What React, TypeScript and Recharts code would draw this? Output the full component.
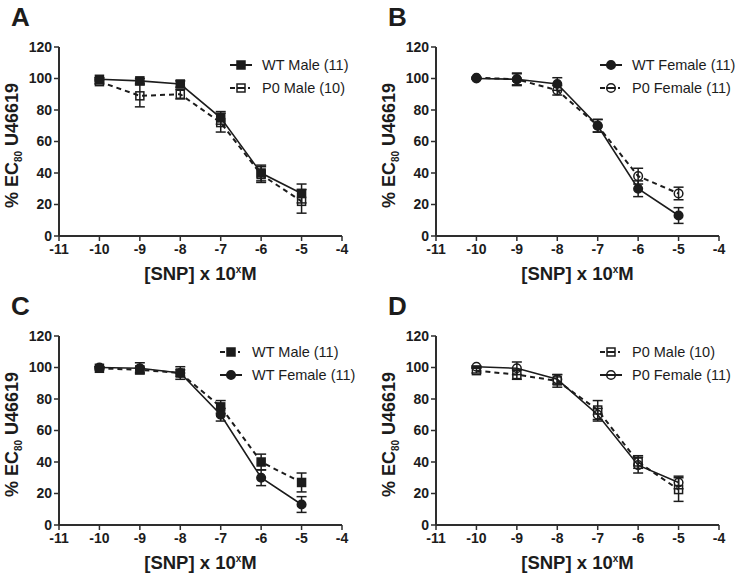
import React from "react";
import { LineChart, Line, XAxis, YAxis, ErrorBar } from "recharts";

// log10 [SNP] (M)
const DOSES = [-10, -9, -8, -7, -6, -5];
const X_TICKS = [-11, -10, -9, -8, -7, -6, -5, -4];
const Y_TICKS = [0, 20, 40, 60, 80, 100, 120];

// % EC80 U46619, mean and SEM
const WT_MALE = [99.5, 98.5, 96.5, 75, 40, 27];
const WT_MALE_SEM = [1, 1.5, 2, 4, 5, 6];
const P0_MALE = [98, 89, 90, 72, 39, 22];
const P0_MALE_SEM = [1.5, 7, 3, 6, 5, 7.5];
const WT_FEMALE = [100, 99.5, 96.5, 70, 30, 13];
const WT_FEMALE_SEM = [0.5, 3.5, 4, 4, 5, 5];
const P0_FEMALE = [100.5, 99.5, 92.5, 70, 38, 27];
const P0_FEMALE_SEM = [0.5, 4, 3, 4, 5, 4];
// panel D plots P0 male slightly differently
const P0_MALE_D = [98, 95.5, 91.5, 73, 40, 22.5];
const P0_MALE_D_SEM = [1.5, 3, 4, 6, 4, 7.5];

const FONT = '"Liberation Sans", Arial, Helvetica, sans-serif';
const INK = "#1c1c1c";
const AXIS = "#2e2e2e";

type Series = {
  key: string;
  name: string;
  shape: "square" | "circle";
  filled: boolean;
  dashed: boolean;
};

const WT_M: Series = { key: "wtMale", name: "WT Male (11)", shape: "square", filled: true, dashed: false };
const P0_M: Series = { key: "p0Male", name: "P0 Male (10)", shape: "square", filled: false, dashed: true };
const WT_F: Series = { key: "wtFemale", name: "WT Female (11)", shape: "circle", filled: true, dashed: false };
const P0_F: Series = { key: "p0Female", name: "P0 Female (11)", shape: "circle", filled: false, dashed: true };

const data = DOSES.map((dose, i) => ({
  dose,
  wtMale: WT_MALE[i],
  wtMaleErr: WT_MALE_SEM[i],
  p0Male: P0_MALE[i],
  p0MaleErr: P0_MALE_SEM[i],
  wtFemale: WT_FEMALE[i],
  wtFemaleErr: WT_FEMALE_SEM[i],
  p0Female: P0_FEMALE[i],
  p0FemaleErr: P0_FEMALE_SEM[i],
  p0MaleD: P0_MALE_D[i],
  p0MaleDErr: P0_MALE_D_SEM[i],
}));

// panel C shows WT male dashed, panel D shows P0 female solid
const PANELS = [
  { letter: "A", left: 0, top: 0, legendX: 230, legendY: [65, 88], series: [WT_M, P0_M] },
  { letter: "B", left: 377, top: 0, legendX: 223, legendY: [65, 88], series: [WT_F, P0_F] },
  { letter: "C", left: 0, top: 289, legendX: 220, legendY: [63, 86], series: [{ ...WT_M, dashed: true }, WT_F] },
  {
    letter: "D",
    left: 377,
    top: 289,
    legendX: 223,
    legendY: [63, 86],
    series: [{ ...P0_M, key: "p0MaleD" }, { ...P0_F, dashed: false }],
  },
];

function Marker({ cx, cy, s }: { cx: number; cy: number; s: Series }) {
  const fill = s.filled ? INK : "none";
  if (s.shape === "square") {
    return <rect x={cx - 4} y={cy - 4} width={8} height={8} fill={fill} stroke={INK} strokeWidth={1.5} />;
  }
  return <circle cx={cx} cy={cy} r={4.3} fill={fill} stroke={INK} strokeWidth={1.5} />;
}

function LegendSymbol({ s }: { s: Series }) {
  return (
    <svg width={22} height={12} style={{ display: "block" }}>
      {s.dashed ? (
        <g stroke={INK} strokeWidth={2}>
          <line x1={0} y1={6} x2={5} y2={6} />
          <line x1={7} y1={6} x2={15} y2={6} />
          <line x1={18} y1={6} x2={20} y2={6} />
        </g>
      ) : (
        <line x1={0} y1={6} x2={22} y2={6} stroke={INK} strokeWidth={2} />
      )}
      <Marker cx={11} cy={6} s={s} />
    </svg>
  );
}

function YLabel(props: any) {
  const vb = props.viewBox;
  const cx = 18;
  const cy = vb.y + vb.height / 2 + 4;
  return (
    <text
      x={cx}
      y={cy}
      transform={`rotate(-90 ${cx} ${cy})`}
      textAnchor="middle"
      fontFamily={FONT}
      fontWeight={700}
      fontSize={18}
      fill={INK}
    >
      % EC
      <tspan dy={4} fontSize={10}>80</tspan>
      <tspan dy={-4}> U46619</tspan>
    </text>
  );
}

function XLabel(props: any) {
  const vb = props.viewBox;
  const x = vb.x + vb.width / 2;
  const y = vb.y + 44;
  return (
    <text x={x} y={y} textAnchor="middle" fontFamily={FONT} fontWeight={700} fontSize={18.5} fill={INK}>
      [SNP] x 10
      <tspan dy={-7} fontSize={10}>x</tspan>
      <tspan dy={7}>M</tspan>
    </text>
  );
}

function Panel({ p }: { p: (typeof PANELS)[number] }) {
  const tick = { fill: INK, fontSize: 14, fontWeight: 700, fontFamily: FONT };
  const drawOrder = [...p.series].reverse();
  return (
    <div style={{ position: "absolute", left: p.left, top: p.top, width: 360, height: 290 }}>
      <LineChart width={360} height={290} data={data} margin={{ top: 47, right: 18, bottom: 0, left: 0 }}>
        <XAxis
          type="number"
          dataKey="dose"
          domain={[-11, -4]}
          ticks={X_TICKS}
          allowDataOverflow
          height={54}
          tick={tick}
          tickSize={5}
          tickMargin={3}
          axisLine={{ stroke: AXIS, strokeWidth: 2 }}
          tickLine={{ stroke: AXIS, strokeWidth: 1.5 }}
          label={<XLabel />}
        />
        <YAxis
          type="number"
          domain={[0, 120]}
          ticks={Y_TICKS}
          width={59}
          tick={tick}
          tickSize={5}
          tickMargin={2}
          axisLine={{ stroke: AXIS, strokeWidth: 2 }}
          tickLine={{ stroke: AXIS, strokeWidth: 1.5 }}
          label={<YLabel />}
        />
        {drawOrder.map((s) => (
          <Line
            key={s.key}
            type="linear"
            dataKey={s.key}
            name={s.name}
            stroke={INK}
            strokeWidth={s.dashed ? 2 : 1.6}
            strokeDasharray={s.dashed ? "5 4" : undefined}
            isAnimationActive={false}
            activeDot={false}
            dot={(d: any) => <Marker key={`${s.key}-${d.index}`} cx={d.cx} cy={d.cy} s={s} />}
          >
            <ErrorBar dataKey={`${s.key}Err`} direction="y" width={5} stroke={INK} strokeWidth={1.5} />
          </Line>
        ))}
      </LineChart>

      <div
        style={{
          position: "absolute",
          left: 11,
          top: 4,
          fontFamily: FONT,
          fontWeight: 700,
          fontSize: 26,
          lineHeight: "26px",
          color: INK,
        }}
      >
        {p.letter}
      </div>

      {p.series.map((s, i) => (
        <div
          key={s.key}
          style={{
            position: "absolute",
            left: p.legendX,
            top: p.legendY[i] - 8,
            height: 16,
            display: "flex",
            alignItems: "center",
            fontFamily: FONT,
            fontSize: 14.5,
            color: INK,
            whiteSpace: "nowrap",
          }}
        >
          <LegendSymbol s={s} />
          <span style={{ marginLeft: 10 }}>{s.name}</span>
        </div>
      ))}
    </div>
  );
}

export default function App() {
  return (
    <div style={{ position: "absolute", left: 0, top: 0, width: 736, height: 579, background: "#fff" }}>
      {PANELS.map((p) => (
        <Panel key={p.letter} p={p} />
      ))}
    </div>
  );
}
